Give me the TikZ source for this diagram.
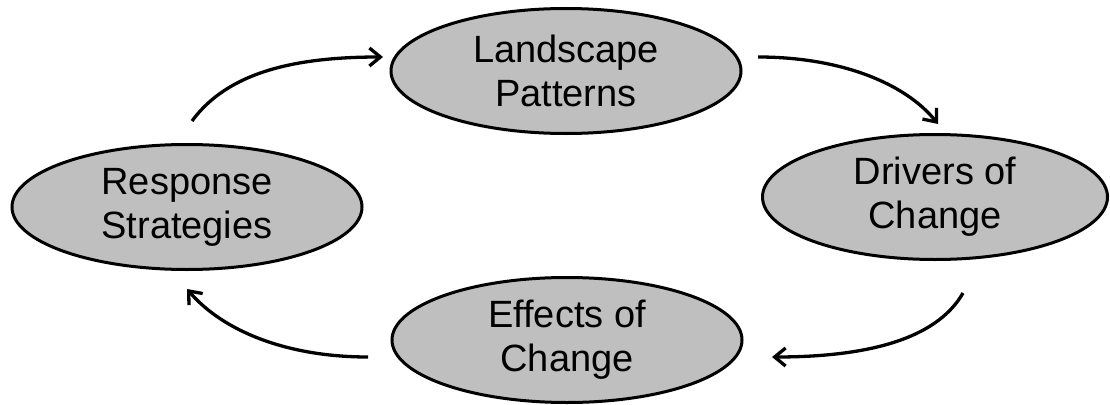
\documentclass[tikz,border=0pt]{standalone}
\usepackage{fontspec}
\setmainfont{Liberation Sans}
\usetikzlibrary{shapes.geometric,arrows.meta}
\definecolor{cycgray}{RGB}{191,191,191}
\tikzset{
  cyc/.style={ellipse, draw=black, line width=3pt, fill=cycgray, minimum width=350pt, minimum height=125pt, inner sep=0pt, align=center, font=\fontsize{38}{44}\selectfont},
  flow/.style={line width=3.3pt, -{Straight Barb[length=11pt,width=18pt,line width=3.3pt]}}
}
\begin{document}
\begin{tikzpicture}[x=1pt,y=-1pt]
\useasboundingbox (0,0) rectangle (1110,404);
\node[cyc] (land) at (566,71) {Landscape\\Patterns};
\node[cyc, minimum width=345pt] (driv) at (935,197) {Drivers of\\Change};
\node[cyc] (resp) at (187,207) {Response\\Strategies};
\node[cyc] (eff) at (567,340) {Effects of\\Change};
\coordinate (a1) at (192,121);
\coordinate (b1) at (383,57);
\coordinate (a2) at (758,57);
\coordinate (b2) at (938,124);
\coordinate (a3) at (963,293);
\coordinate (b3) at (772,357);
\coordinate (a4) at (368,357);
\coordinate (b4) at (187,289);
\draw[flow] (a1) .. controls (228,72) and (295,57) .. (b1);
\draw[flow] (a2) .. controls (840,57) and (905,83) .. (b2);
\draw[flow] (a3) .. controls (935,342) and (860,357) .. (b3);
\draw[flow] (a4) .. controls (285,357) and (222,330) .. (b4);
\end{tikzpicture}
\end{document}
